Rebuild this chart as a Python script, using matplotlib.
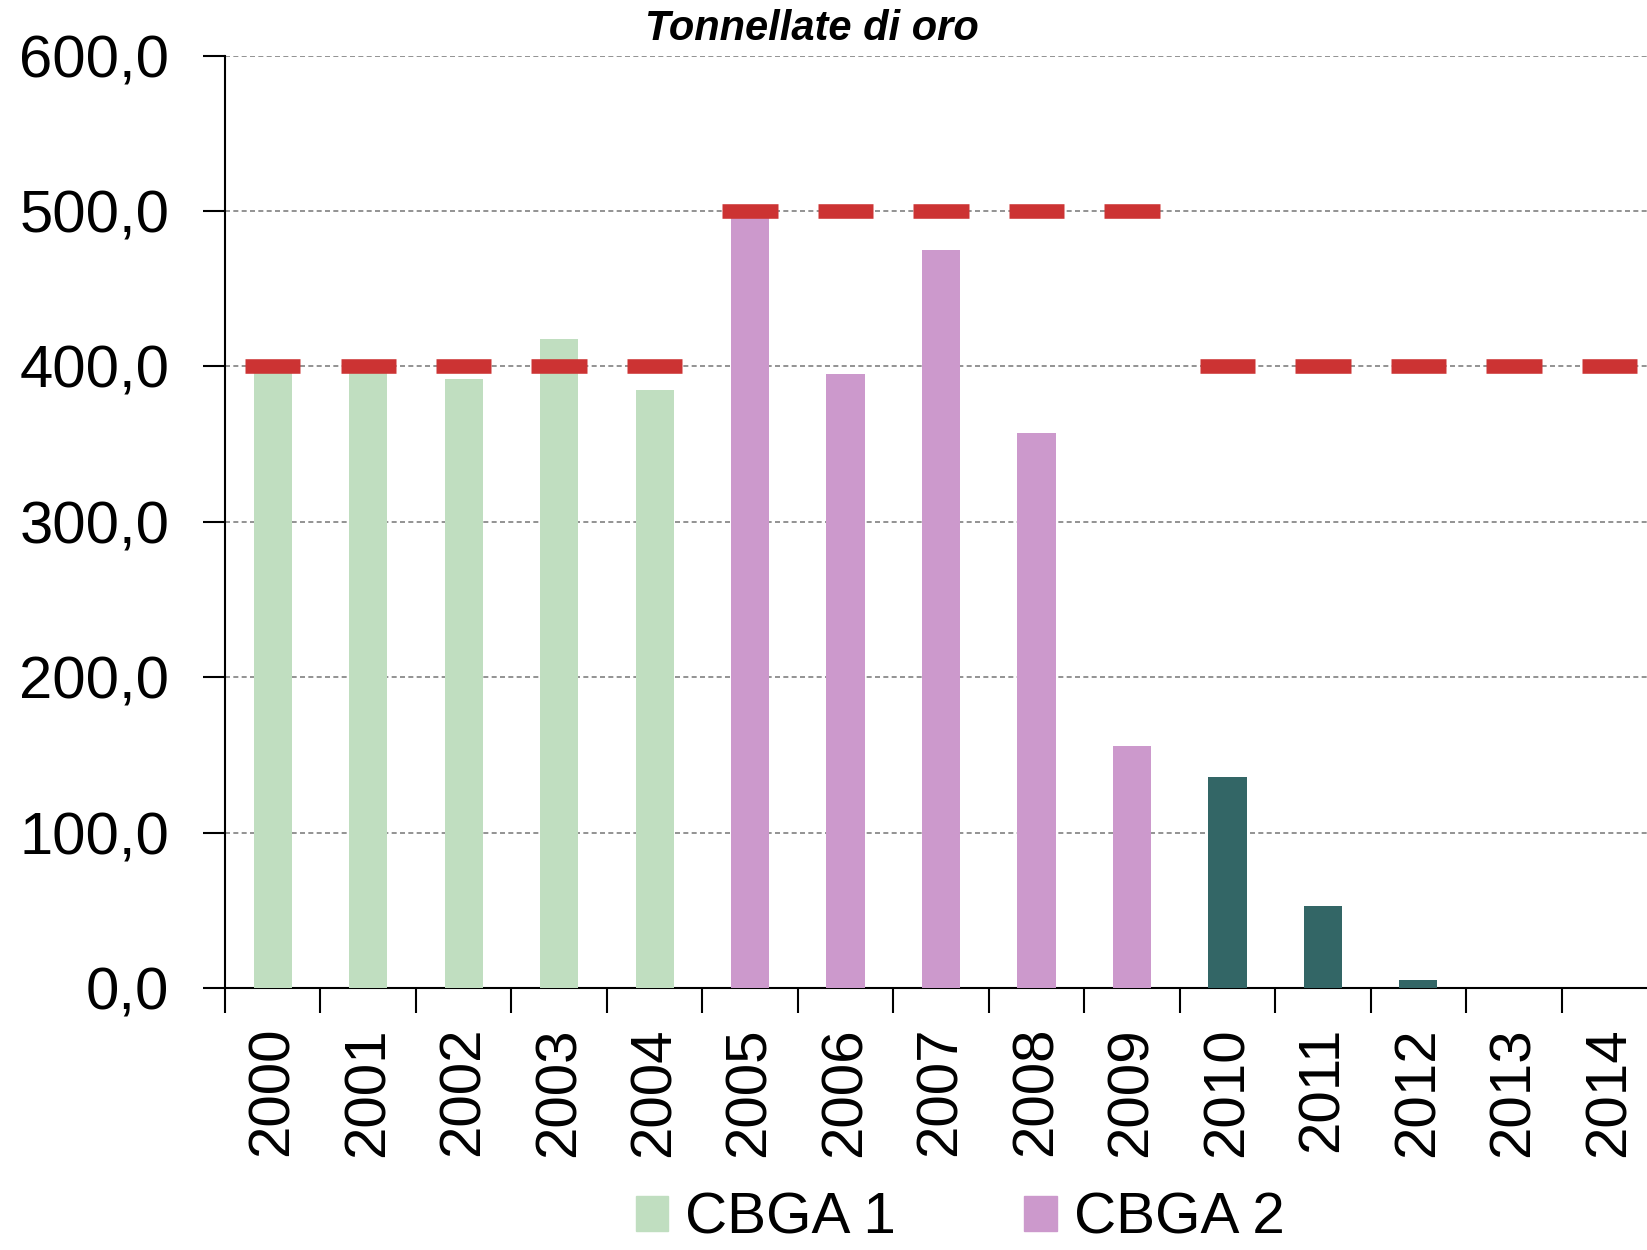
import matplotlib.pyplot as plt
import matplotlib.ticker as mticker
from matplotlib.patches import Patch

# tonnellate di oro vendute per anno
anni = ['2000', '2001', '2002', '2003', '2004', '2005', '2006', '2007',
        '2008', '2009', '2010', '2011', '2012', '2013', '2014']
vendite = [399, 399, 392, 418, 385, 497, 395, 475, 357, 156, 136, 53, 5, 0, 0]
gruppo = ['CBGA 1'] * 5 + ['CBGA 2'] * 5 + ['CBGA 3'] * 5
tetto = [400] * 5 + [500] * 5 + [400] * 5

colori = {'CBGA 1': '#C0DEC0', 'CBGA 2': '#CC99CC', 'CBGA 3': '#336666'}

plt.rcParams['font.family'] = ['Liberation Sans', 'DejaVu Sans']

fig = plt.figure(figsize=(16.47, 12.5), dpi=100)
# l'asse va un po' oltre il bordo destro, come nell'originale
ax = fig.add_axes([0.1366, 0.2096, 0.8695, 0.7458])

x = list(range(len(anni)))
ax.bar(x, vendite, width=0.4, color=[colori[g] for g in gruppo], zorder=3)

# tetto massimo annuo (trattini rossi)
ax.hlines(tetto, [i - 0.29 for i in x], [i + 0.29 for i in x],
          colors='#CC3333', linewidth=10.5, zorder=4)

ax.set_xlim(-0.5, len(anni) - 0.5)
ax.set_ylim(0, 600)
ax.yaxis.set_major_locator(mticker.MultipleLocator(100))
ax.yaxis.set_major_formatter(mticker.FuncFormatter(lambda v, p: f'{v:.1f}'.replace('.', ',')))
ax.grid(axis='y', color='#808080', linestyle=(0, (3, 2)), linewidth=1.2, zorder=1)

ax.set_xticks(x)
ax.set_xticklabels(anni, rotation=90, fontsize=42)
ax.set_xticks([i + 0.5 for i in x[:-1]] + [-0.5], minor=True)
ax.tick_params(axis='x', which='major', length=0, pad=28)
ax.tick_params(axis='x', which='minor', length=18, width=1.5, direction='out')
ax.tick_params(axis='y', labelsize=43, length=16, width=1.5, pad=24)

for s in ['top', 'right']:
    ax.spines[s].set_visible(False)
ax.spines['left'].set_linewidth(1.5)
ax.spines['bottom'].set_linewidth(1.5)

fig.text(0.493, 0.977, 'Tonnellate di oro', fontsize=30, style='italic',
         fontweight='bold', ha='center', va='center')

handles = [Patch(color=colori['CBGA 1'], label='CBGA 1'),
           Patch(color=colori['CBGA 2'], label='CBGA 2')]
fig.legend(handles=handles, loc='center', bbox_to_anchor=(0.583, 0.025), ncol=2,
           frameon=False, fontsize=42, handlelength=0.55, handleheight=0.55,
           handletextpad=0.3, columnspacing=2.2, borderpad=0.1)

fig.savefig('out.png', dpi=100)
